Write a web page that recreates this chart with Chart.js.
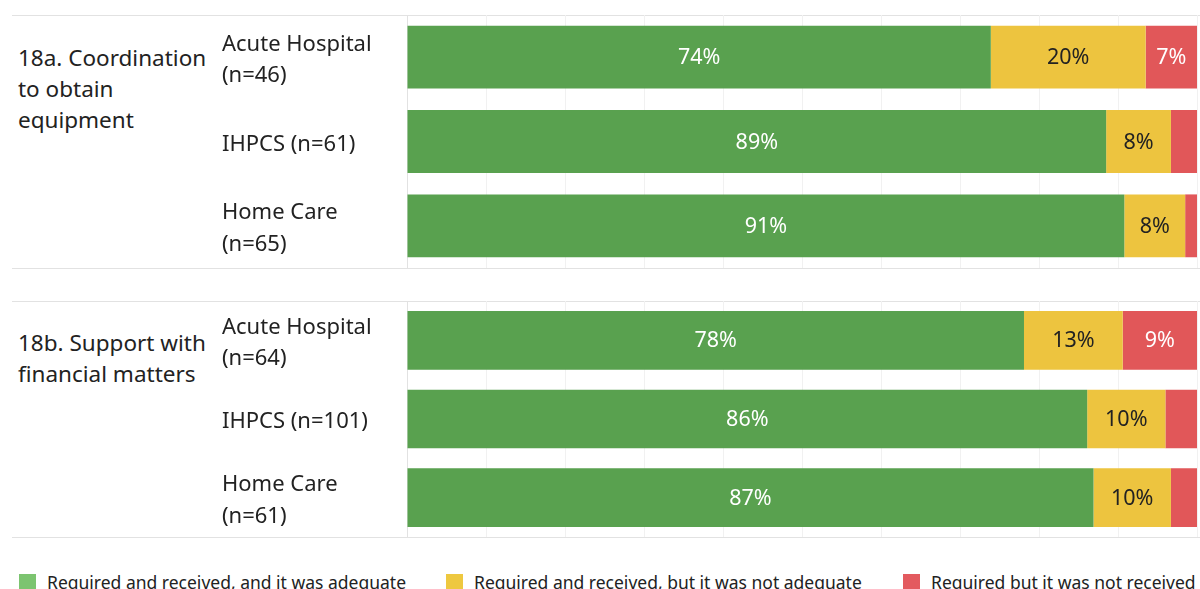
<!DOCTYPE html>
<html>
<head>
<meta charset="utf-8">
<script src="https://cdn.jsdelivr.net/npm/chart.js@4.4.1/dist/chart.umd.min.js"></script>
<style>
  body { margin: 0; background: #fff; width: 1200px; height: 589px; overflow: hidden; position: relative; font-family: "Noto Sans", sans-serif; }
  .hline { position: absolute; left: 12px; width: 1188px; height: 1px; background: #e2e2e2; }
  .title { position: absolute; left: 18px; font-size: 22.5px; line-height: 31px; color: #222; }
  canvas { position: absolute; }
  .leg { position: absolute; top: 570px; font-size: 17.5px; color: #222; white-space: nowrap; }
  .leg span { display: inline-block; width: 17px; height: 17px; vertical-align: -2px; margin-right: 11px; }
</style>
</head>
<body>
<div class="hline" style="top:15px"></div>
<div class="hline" style="top:268px"></div>
<div class="hline" style="top:301px"></div>
<div class="hline" style="top:537px"></div>
<div class="title" style="top:42px">18a. Coordination<br>to obtain<br>equipment</div>
<div class="title" style="top:327px">18b. Support with<br>financial matters</div>
<canvas id="chartA" width="978" height="253" style="left:222px;top:15px;width:978px;height:253px"></canvas>
<canvas id="chartB" width="978" height="236" style="left:222px;top:301px;width:978px;height:236px"></canvas>
<div id="legend"></div>
<script>
// series names + colours
const seriesNames = ['Required and received, and it was adequate', 'Required and received, but it was not adequate', 'Required but it was not received']
const barColors = ['#59a14f', '#edc43f', '#e15759']
const legendColors = ['#7cc470', '#eec83f', '#e35a5f']
const labelColors = ['#ffffff', '#222222', '#ffffff']

// 18a. Coordination to obtain equipment
const catsA = [['Acute Hospital', '(n=46)'], 'IHPCS (n=61)', ['Home Care', '(n=65)']]
const adequateA = [73.9, 88.5, 90.8]
const notAdequateA = [19.6, 8.2, 7.7]
const notReceivedA = [6.5, 3.3, 1.5]

// 18b. Support with financial matters
const catsB = [['Acute Hospital', '(n=64)'], 'IHPCS (n=101)', ['Home Care', '(n=61)']]
const adequateB = [78.1, 86.1, 86.9]
const notAdequateB = [12.5, 9.9, 9.8]
const notReceivedB = [9.4, 4.0, 3.3]

// percent labels inside the segments
const segLabels = {
  id: 'segLabels',
  afterDatasetsDraw(chart) {
    const ctx = chart.ctx
    ctx.save()
    ctx.font = '21.5px "Noto Sans", sans-serif'
    ctx.textAlign = 'center'
    ctx.textBaseline = 'middle'
    chart.data.datasets.forEach((ds, i) => {
      const meta = chart.getDatasetMeta(i)
      meta.data.forEach((bar, j) => {
        const v = ds.data[j]
        if (v < 5) return
        ctx.fillStyle = labelColors[i]
        ctx.fillText(Math.round(v) + '%', (bar.x + bar.base) / 2, bar.y + 1)
      })
    })
    ctx.restore()
  }
}

function makePanel(id, cats, vals){
  const data = {
    labels: cats,
    datasets: vals.map((v, i) => ({
      label: seriesNames[i],
      data: v,
      backgroundColor: barColors[i],
      barPercentage: 0.745,
      categoryPercentage: 1
    }))
  }
  const config = {
    type: 'bar',
    data: data,
    options: {
      indexAxis: 'y',
      responsive: false,
      animation: false,
      layout: { padding: { right: 3, top: 0, bottom: 0, left: 0 } },
      scales: {
        x: {
          stacked: true,
          min: 0,
          max: 100,
          ticks: { display: false, stepSize: 10 },
          grid: { color: '#f1f1f1', drawTicks: false },
          border: { display: false },
          afterFit: function(ax){ ax.height = 0; ax.paddingLeft = 0; ax.paddingRight = 0 }
        },
        y: {
          stacked: true,
          grid: { display: false, drawTicks: false },
          border: { color: '#e2e2e2' },
          ticks: {
            crossAlign: 'far',
            color: '#222',
            padding: 0,
            labelOffset: 3,
            font: { family: '"Noto Sans", sans-serif', size: 22, lineHeight: 1.42 }
          },
          // multi-line labels must not shrink the plot area
          afterFit: function(ax){ ax.width = 185; ax.paddingTop = 0; ax.paddingBottom = 0 }
        }
      },
      plugins: {
        legend: { display: false },
        tooltip: { enabled: false }
      }
    },
    plugins: [segLabels]
  }
  return new Chart(document.getElementById(id), config)
}

makePanel('chartA', catsA, [adequateA, notAdequateA, notReceivedA])
makePanel('chartB', catsB, [adequateB, notAdequateB, notReceivedB])

// legend along the bottom
const legendX = [19, 446, 903]
const legend = document.getElementById('legend')
seriesNames.forEach((name, i) => {
  const d = document.createElement('div')
  d.className = 'leg'
  d.style.left = legendX[i] + 'px'
  d.innerHTML = '<span style="background:' + legendColors[i] + '"></span>' + name
  legend.appendChild(d)
})
</script>
</body>
</html>
